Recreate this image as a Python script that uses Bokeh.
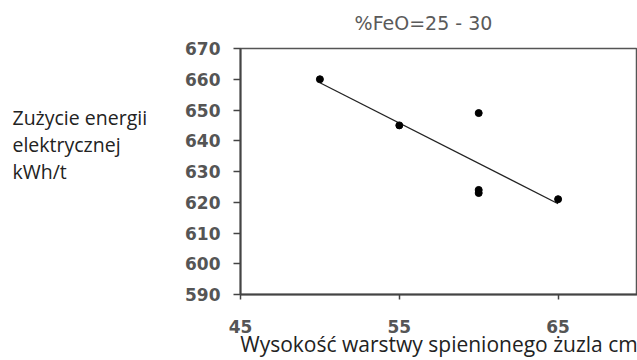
import numpy as np
from bokeh.plotting import figure
from bokeh.layouts import row, column
from bokeh.models import FixedTicker, Range1d, Label
from bokeh.embed import file_html
from bokeh.resources import INLINE

# Slag foam height (cm) vs. electric energy use (kWh/t), FeO 25-30 %
height_cm = [50, 55, 60, 60, 60, 65]
energy_kwh_t = [660, 645, 649, 623, 624, 621]

x_ticks = [45, 55, 65]
y_ticks = [590, 600, 610, 620, 630, 640, 650, 660, 670]

title_text = "%FeO=25 - 30"
x_label = "Wysokość warstwy spienionego żuzla cm"
y_label = "Zużycie energii\nelektrycznej\nkWh/t"

W = 637
TOP_H = 34
SIDE_W = 160
H = 360 - TOP_H


def blank(width, height):
    """Axis-less strip used only to carry free text."""
    f = figure(width=width, height=height, output_backend="svg", toolbar_location=None,
               x_range=Range1d(0, width), y_range=Range1d(0, height),
               min_border=0, x_axis_type=None, y_axis_type=None)
    f.outline_line_color = None
    f.xgrid.visible = False
    f.ygrid.visible = False
    return f


# title strip across the top
top = blank(W, TOP_H)
top.add_layout(Label(x=423, y=TOP_H - 22, text=title_text, text_align="center",
                     text_baseline="alphabetic", text_font="DejaVu Sans",
                     text_font_size="19px", text_color="#5a5a5a"))

# left panel with the horizontal, left-aligned y caption
side = blank(SIDE_W, H)
side.add_layout(Label(x=12, y=H - 74, text=y_label, text_align="left",
                      text_baseline="top", text_font="Open Sans",
                      text_font_size="19.5px", text_color="#222222",
                      text_line_height=1.0))

p = figure(width=W - SIDE_W, height=H, output_backend="svg", toolbar_location=None,
           x_range=Range1d(45, 70), y_range=Range1d(590, 670),
           min_border_left=240 - SIDE_W, min_border_right=0,
           min_border_top=48 - TOP_H, min_border_bottom=64)
p.background_fill_color = "white"
p.border_fill_color = "white"
p.outline_line_color = "#555555"
p.outline_line_width = 1.5
p.xgrid.visible = False
p.ygrid.visible = False

for ax in (p.xaxis[0], p.yaxis[0]):
    ax.axis_line_color = "#444444"
    ax.axis_line_width = 2
    ax.major_tick_line_color = "#444444"
    ax.major_tick_line_width = 1.5
    ax.minor_tick_line_color = None
    ax.major_tick_in = 0
    ax.major_label_text_font = "DejaVu Sans"
    ax.major_label_text_font_style = "bold"
    ax.major_label_text_color = "#555555"
    ax.major_label_text_font_size = "17px"
    ax.axis_label_text_font = "Open Sans"
    ax.axis_label_text_font_style = "normal"
    ax.axis_label_text_color = "#222222"

p.xaxis.ticker = FixedTicker(ticks=x_ticks)
p.yaxis.ticker = FixedTicker(ticks=y_ticks)
p.xaxis.major_tick_out = 5
p.yaxis.major_tick_out = 7
p.xaxis.major_label_standoff = 20
p.yaxis.major_label_standoff = 13

p.xaxis.axis_label = x_label
p.xaxis.axis_label_text_font_size = "21px"
p.xaxis.axis_label_standoff = -6

# least-squares trend line through the measurements
slope, intercept = np.polyfit(height_cm, energy_kwh_t, 1)
tx = [min(height_cm), max(height_cm)]
ty = [slope * v + intercept for v in tx]
p.line(tx, ty, line_color="#222222", line_width=1.3)
p.scatter(height_cm, energy_kwh_t, size=7, color="black")

layout = column(top, row(side, p))
open("out.html", "w").write(file_html(layout, INLINE))
